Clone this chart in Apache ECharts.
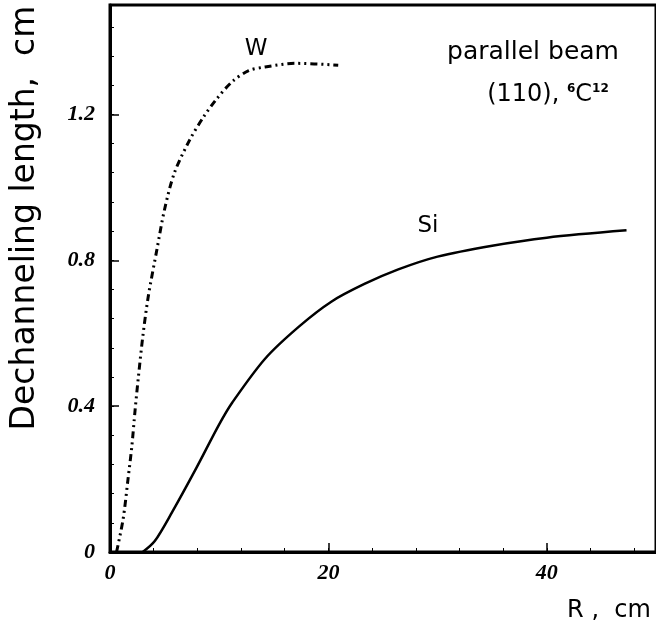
<!DOCTYPE html>
<html lang="en">
<head>
    <meta charset="UTF-8"/>
    <script src="https://cdn.jsdelivr.net/npm/echarts@6/dist/echarts.min.js"></script>
    <title>dechanneling</title>
    <style>
        html, body { margin: 0; padding: 0; background: #fff; }
    </style>
</head>
<body>
<div id="main" style="width: 656px;height:627px;"></div>
<script type="text/javascript">
    // values: R in cm, dechanneling length in cm
    var wR = [0.6, 1.2, 1.65, 2.0, 2.3, 2.6, 3.0, 3.5, 4.3, 5.0, 5.9, 7.3, 8.5, 9.7, 11.2, 12.7, 14.2, 17.0, 20.9];
    var wLen = [0, 0.09, 0.2, 0.29, 0.39, 0.48, 0.59, 0.7, 0.83, 0.94, 1.04, 1.13, 1.19, 1.24, 1.29, 1.32, 1.33, 1.34, 1.335];
    var siR = [3.0, 4.1, 5.7, 7.9, 10.0, 11.2, 14.2, 17.3, 20.3, 23.3, 26.4, 30.0, 35.0, 40.0, 47.3];
    var siLen = [0, 0.03, 0.11, 0.23, 0.35, 0.41, 0.53, 0.618, 0.687, 0.735, 0.775, 0.81, 0.84, 0.862, 0.882];
    var xLabels = [0, 20, 40];
    var yLabels = [0, 0.4, 0.8, 1.2];

    function pairs(xs, ys) {
        var out = [];
        for (var i = 0; i < xs.length; i++) out.push([xs[i], ys[i]]);
        return out;
    }
    function near(v, list) {
        for (var i = 0; i < list.length; i++) {
            if (Math.abs(v - list[i]) < 1e-6) return true;
        }
        return false;
    }

    var textFont = 'DejaVu Sans';

    var myChart = echarts.init(document.getElementById('main'));

    var option = {
        animation: false,
        backgroundColor: '#fff',
        grid: {
            left: 110, top: 5, bottom: 75, right: -4,
            show: true, borderColor: '#000', borderWidth: 3
        },
        xAxis: [{
            type: 'value', min: 0, max: 50, interval: 4,
            axisLine: {lineStyle: {color: '#000', width: 3}},
            axisTick: {inside: true, length: 4, lineStyle: {color: '#000', width: 1}},
            splitLine: {show: false},
            axisLabel: {
                margin: 10,
                showMaxLabel: false,
                fontFamily: 'Liberation Serif', fontStyle: 'italic', fontWeight: 'bold',
                fontSize: 22, color: '#000',
                formatter: function (v) { return near(v, xLabels) ? String(v) : ''; }
            }
        }, {
            type: 'value', min: 0, max: 50, interval: 20, position: 'bottom',
            axisLine: {show: false},
            axisTick: {inside: true, length: 9, lineStyle: {color: '#000', width: 1.5}},
            splitLine: {show: false},
            axisLabel: {show: false}
        }],
        yAxis: [{
            type: 'value', min: 0, max: 1.5, interval: 0.08,
            axisLine: {lineStyle: {color: '#000', width: 3}},
            axisTick: {inside: true, length: 4, lineStyle: {color: '#000', width: 1}},
            splitLine: {show: false},
            axisLabel: {
                margin: 15,
                showMaxLabel: false,
                fontFamily: 'Liberation Serif', fontStyle: 'italic', fontWeight: 'bold',
                fontSize: 22, color: '#000',
                formatter: function (v) {
                    if (!near(v, yLabels)) return '';
                    return v === 0 ? '0' : v.toFixed(1);
                }
            }
        }, {
            type: 'value', min: 0, max: 1.5, interval: 0.4, position: 'left',
            axisLine: {show: false},
            axisTick: {inside: true, length: 9, lineStyle: {color: '#000', width: 1.5}},
            splitLine: {show: false},
            axisLabel: {show: false}
        }],
        series: [{
            name: 'W',
            type: 'line',
            smooth: 0.3,
            symbol: 'none',
            data: pairs(wR, wLen),
            lineStyle: {color: '#000', width: 3, type: [7, 4, 2, 4, 2, 4]}
        }, {
            name: 'Si',
            type: 'line',
            smooth: 0.3,
            symbol: 'none',
            data: pairs(siR, siLen),
            lineStyle: {color: '#000', width: 2.5}
        }],
        graphic: [{
            type: 'text', x: 25, y: 218, rotation: Math.PI / 2,
            style: {
                text: 'Dechanneling length,  cm', fontFamily: textFont, fontSize: 33,
                fill: '#000', align: 'center', verticalAlign: 'middle'
            }
        }, {
            type: 'text', x: 609, y: 611,
            style: {
                text: 'R ,  cm', fontFamily: textFont, fontSize: 24,
                fill: '#000', align: 'center', verticalAlign: 'middle'
            }
        }, {
            type: 'text', x: 256, y: 49,
            style: {
                text: 'W', fontFamily: textFont, fontSize: 23,
                fill: '#000', align: 'center', verticalAlign: 'middle'
            }
        }, {
            type: 'text', x: 428, y: 226,
            style: {
                text: 'Si', fontFamily: textFont, fontSize: 23,
                fill: '#000', align: 'center', verticalAlign: 'middle'
            }
        }, {
            type: 'text', x: 533, y: 52,
            style: {
                text: 'parallel beam', fontFamily: textFont, fontSize: 25,
                fill: '#000', align: 'center', verticalAlign: 'middle'
            }
        }, {
            type: 'text', x: 548, y: 95,
            style: {
                text: '(110), {sup|6}C{sup|12}', fontFamily: textFont, fontSize: 24,
                fill: '#000', align: 'center', verticalAlign: 'middle',
                rich: {
                    sup: {fontFamily: textFont, fontSize: 12, fontWeight: 'bold', fill: '#000', verticalAlign: 'top', padding: [0, 0, 12, 0]}
                }
            }
        }]
    };

    myChart.setOption(option);
</script>
</body>
</html>
